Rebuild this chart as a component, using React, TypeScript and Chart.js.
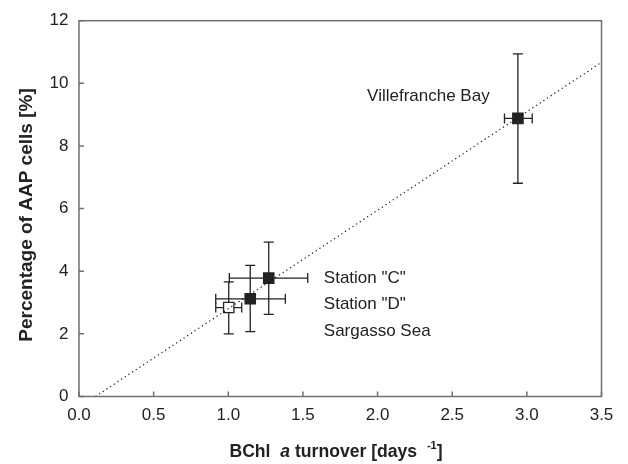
import React, { useEffect, useRef } from "react";
import { Chart, registerables } from "chart.js";

Chart.register(...registerables);

// Data
const siteNames = ["Villefranche Bay", 'Station "C"', 'Station "D"', "Sargasso Sea"];
const turnover = [2.94, 1.271, 1.147, 1.003];
const aapPercent = [8.88, 3.78, 3.12, 2.84];
const turnoverLow = [2.85, 1.007, 0.916, 0.916];
const turnoverHigh = [3.036, 1.532, 1.382, 1.09];
const aapLow = [6.81, 2.62, 2.07, 2.0];
const aapHigh = [10.94, 4.93, 4.19, 3.66];
const openMarker = [false, false, false, true];

const fitX = [0.11, 3.5];
const fitY = [0, 10.67];

const xTicks = [0, 0.5, 1.0, 1.5, 2.0, 2.5, 3.0, 3.5];
const yTicks = [0, 2, 4, 6, 8, 10, 12];

// annotation anchors (data coords: left edge, vertical middle)
const labelText = siteNames;
const labelX = [1.93, 1.64, 1.64, 1.64];
const labelY = [9.57, 3.76, 2.93, 2.09];

const FONT = '"Liberation Sans", Arial, Helvetica, sans-serif';
const AXIS_COLOR = "#707070";
const DARK = "#222222";

const overlayPlugin = {
  id: "overlay",
  beforeDatasetsDraw(chart: any) {
    const ctx = chart.ctx;
    const xs = chart.scales.x;
    const ys = chart.scales.y;
    ctx.save();
    ctx.strokeStyle = DARK;
    ctx.lineWidth = 1.3;
    const cap = 5;
    for (let i = 0; i < turnover.length; i++) {
      const cx = xs.getPixelForValue(turnover[i]);
      const cy = ys.getPixelForValue(aapPercent[i]);
      const yt = ys.getPixelForValue(aapHigh[i]);
      const yb = ys.getPixelForValue(aapLow[i]);
      const xl = xs.getPixelForValue(turnoverLow[i]);
      const xr = xs.getPixelForValue(turnoverHigh[i]);
      ctx.beginPath();
      ctx.moveTo(cx, yt);
      ctx.lineTo(cx, yb);
      ctx.moveTo(cx - cap, yt);
      ctx.lineTo(cx + cap, yt);
      ctx.moveTo(cx - cap, yb);
      ctx.lineTo(cx + cap, yb);
      ctx.moveTo(xl, cy);
      ctx.lineTo(xr, cy);
      ctx.moveTo(xl, cy - cap);
      ctx.lineTo(xl, cy + cap);
      ctx.moveTo(xr, cy - cap);
      ctx.lineTo(xr, cy + cap);
      ctx.stroke();
    }
    ctx.restore();
  },
  afterDraw(chart: any) {
    const ctx = chart.ctx;
    const xs = chart.scales.x;
    const ys = chart.scales.y;
    const a = chart.chartArea;
    ctx.save();
    // box
    ctx.strokeStyle = AXIS_COLOR;
    ctx.lineWidth = 1.5;
    ctx.strokeRect(a.left, a.top, a.right - a.left, a.bottom - a.top);
    // inward ticks
    ctx.beginPath();
    const tl = 5;
    for (const v of xTicks) {
      const p = xs.getPixelForValue(v);
      ctx.moveTo(p, a.bottom);
      ctx.lineTo(p, a.bottom - tl);
    }
    for (const v of yTicks) {
      const p = ys.getPixelForValue(v);
      ctx.moveTo(a.left, p);
      ctx.lineTo(a.left + tl, p);
    }
    ctx.stroke();

    // annotations
    ctx.fillStyle = "#222";
    ctx.font = `17px ${FONT}`;
    ctx.textAlign = "left";
    ctx.textBaseline = "middle";
    for (let i = 0; i < labelText.length; i++) {
      ctx.fillText(labelText[i], xs.getPixelForValue(labelX[i]), ys.getPixelForValue(labelY[i]));
    }

    // y title
    ctx.save();
    ctx.translate(31.5, 215);
    ctx.rotate(-Math.PI / 2);
    ctx.font = `bold 19px ${FONT}`;
    ctx.textAlign = "center";
    ctx.textBaseline = "alphabetic";
    ctx.fillText("Percentage of AAP cells [%]", 0, 0);
    ctx.restore();

    // x title with italic and superscript
    const segs = [
      { t: "BChl  ", f: `bold 17.6px ${FONT}`, dy: 0 },
      { t: "a", f: `italic bold 17.6px ${FONT}`, dy: 0 },
      { t: " turnover [days  ", f: `bold 17.6px ${FONT}`, dy: 0 },
      { t: "-1", f: `bold 11px ${FONT}`, dy: -8 },
      { t: "]", f: `bold 17.6px ${FONT}`, dy: 0 },
    ];
    let total = 0;
    const widths: number[] = [];
    for (const s of segs) {
      ctx.font = s.f;
      const w = ctx.measureText(s.t).width;
      widths.push(w);
      total += w;
    }
    let x = 336 - total / 2;
    const base = 457;
    ctx.textAlign = "left";
    ctx.textBaseline = "alphabetic";
    segs.forEach((s, i) => {
      ctx.font = s.f;
      ctx.fillText(s.t, x, base + s.dy);
      x += widths[i];
    });
    ctx.restore();
  },
};

export default function App() {
  const ref = useRef<HTMLCanvasElement | null>(null);
  useEffect(() => {
    if (!ref.current) return;
    const chart = new Chart(ref.current, {
      type: "scatter",
      data: {
        datasets: [
          {
            type: "line",
            data: fitX.map((x, i) => ({ x, y: fitY[i] })),
            borderColor: "#111",
            borderWidth: 1.2,
            borderDash: [1.2, 3.2],
            pointRadius: 0,
            fill: false,
          } as any,
          {
            type: "scatter",
            data: turnover.map((x, i) => ({ x, y: aapPercent[i] })),
            pointStyle: "rect",
            pointRadius: 7.3,
            pointBackgroundColor: openMarker.map((o) => (o ? "#ffffff" : DARK)),
            pointBorderColor: DARK,
            pointBorderWidth: 1.3,
          } as any,
        ],
      },
      options: {
        animation: false,
        responsive: true,
        maintainAspectRatio: false,
        layout: { padding: { top: 18, right: 26.5, left: 0, bottom: 0 } },
        plugins: { legend: { display: false }, tooltip: { enabled: false } },
        scales: {
          x: {
            type: "linear",
            min: 0,
            max: 3.5,
            afterFit: (s: any) => {
              s.height = 67.5;
            },
            afterBuildTicks: (s: any) => {
              s.ticks = xTicks.map((v) => ({ value: v }));
            },
            grid: { display: false, drawTicks: false },
            border: { display: false },
            ticks: {
              padding: 8.5,
              color: "#222",
              font: { family: FONT, size: 17 },
              callback: (v: any) => Number(v).toFixed(1),
            },
          },
          y: {
            type: "linear",
            min: 0,
            max: 12,
            afterFit: (s: any) => {
              s.width = 79;
            },
            afterBuildTicks: (s: any) => {
              s.ticks = yTicks.map((v) => ({ value: v }));
            },
            grid: { display: false, drawTicks: false },
            border: { display: false },
            ticks: {
              padding: 10.5,
              color: "#222",
              font: { family: FONT, size: 17 },
              callback: (v: any) => String(v),
            },
          },
        },
      },
      plugins: [overlayPlugin],
    });
    return () => chart.destroy();
  }, []);
  return (
    <div style={{ position: "fixed", left: 0, top: 0, width: 628, height: 464, background: "#fff" }}>
      <canvas ref={ref} />
    </div>
  );
}
